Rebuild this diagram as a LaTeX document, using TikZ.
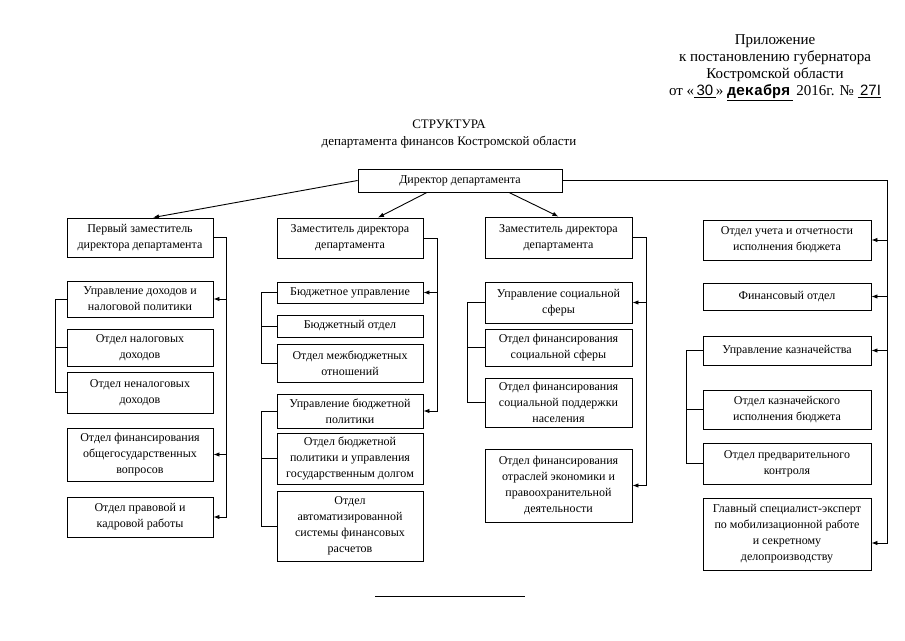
\documentclass[tikz,border=0pt]{standalone}
\usepackage{fontspec}
\setmainfont{Liberation Serif}
\newfontfamily\handsans{Liberation Sans}
\newfontfamily\handmono{Liberation Mono}
\usetikzlibrary{arrows.meta}

\tikzset{
  unit/.style={draw, line width=0.9pt, align=center, inner sep=0pt,
    font=\fontsize{12}{16}\selectfont},
  size/.style 2 args={minimum width=#1pt, minimum height=#2pt},
  link/.style={line width=0.9pt},
  >={Latex[length=6pt,width=4.5pt]}
}

\begin{document}
\begin{tikzpicture}[x=1pt,y=-1pt]
      \useasboundingbox[fill=white] (0,0) rectangle (905,640);
      % heading
      \node[align=center, font=\fontsize{15}{17}\selectfont] (app) at (775,67.5)
        {Приложение\\ к постановлению губернатора\\ Костромской области\\
         от «\underline{\handsans\,30\,}» \underline{\handmono\bfseries декабря\,} 2016г. № \underline{\handsans\,27I}};
      \node[align=center, font=\fontsize{13}{17}\selectfont] (title) at (449,134)
        {СТРУКТУРА\\ департамента финансов Костромской области};
      \node[unit, size={204}{23}] (dir) at (460,180.5) {Директор департамента};

      % first deputy
      \node[unit, size={146}{39}] (a1) at (140,237.5) {Первый заместитель\\ директора департамента};
      \node[unit, size={146}{36}] (a2) at (140,299) {Управление доходов и\\ налоговой политики};
      \node[unit, size={146}{37}] (a3) at (140,347.5) {Отдел налоговых\\ доходов};
      \node[unit, size={146}{41}] (a4) at (140,392.5) {Отдел неналоговых\\ доходов};
      \node[unit, size={146}{53}] (a5) at (140,454.5) {Отдел финансирования\\ общегосударственных\\ вопросов};
      \node[unit, size={146}{40}] (a6) at (140,517) {Отдел правовой и\\ кадровой работы};

      % deputy, budget
      \node[unit, size={146}{40}] (b1) at (350,238) {Заместитель директора\\ департамента};
      \node[unit, size={146}{21}] (b2) at (350,292.5) {Бюджетное управление};
      \node[unit, size={146}{22}] (b3) at (350,326) {Бюджетный отдел};
      \node[unit, size={146}{38}] (b4) at (350,363) {Отдел межбюджетных\\ отношений};
      \node[unit, size={146}{34}] (b5) at (350,411) {Управление бюджетной\\ политики};
      \node[unit, size={146}{51}] (b6) at (350,458.5) {Отдел бюджетной\\ политики и управления\\ государственным долгом};
      \node[unit, size={146}{70}] (b7) at (350,526) {Отдел\\ автоматизированной\\ системы финансовых\\ расчетов};

      % deputy, social
      \node[unit, size={147}{41}] (c1) at (558.5,237.5) {Заместитель директора\\ департамента};
      \node[unit, size={147}{41}] (c2) at (558.5,302.5) {Управление социальной\\ сферы};
      \node[unit, size={147}{37}] (c3) at (558.5,347.5) {Отдел финансирования\\ социальной сферы};
      \node[unit, size={147}{49}] (c4) at (558.5,402.5) {Отдел финансирования\\ социальной поддержки\\ населения};
      \node[unit, size={147}{73}] (c5) at (558.5,485.5) {Отдел финансирования\\ отраслей экономики и\\ правоохранительной\\ деятельности};

      % under the director
      \node[unit, size={168}{40}] (d1) at (787,240) {Отдел учета и отчетности\\ исполнения бюджета};
      \node[unit, size={168}{27}] (d2) at (787,296.5) {Финансовый отдел};
      \node[unit, size={168}{29}] (d3) at (787,350.5) {Управление казначейства};
      \node[unit, size={168}{39}] (d4) at (787,409.5) {Отдел казначейского\\ исполнения бюджета};
      \node[unit, size={168}{41}] (d5) at (787,463.5) {Отдел предварительного\\ контроля};
      \node[unit, size={168}{72}] (d6) at (787,534) {Главный специалист-эксперт\\ по мобилизационной работе\\ и секретному\\ делопроизводству};

      % director -> deputies
      \draw[link,->] (dir.west) -- ([xshift=13pt]a1.north);
      \draw[link,->] ([xshift=-33pt]dir.south) -- ([xshift=28pt]b1.north);
      \draw[link,->] ([xshift=49pt]dir.south) -- (c1.north);
      \draw[link,->] (dir.east) -- ++(325,0) coordinate (s4) |- ([yshift=-9pt]d6.east);
      \foreach \u in {d1,d2,d3}{\draw[link,->] (s4 |- \u.east) -- (\u.east);}

      % right spines
      \draw[link,->] (a1.east) -- ++(13,0) coordinate (s1) |- (a6.east);
      \foreach \u in {a2,a5}{\draw[link,->] (s1 |- \u.east) -- (\u.east);}
      \draw[link,->] (b1.east) -- ++(14,0) coordinate (s2) |- (b5.east);
      \draw[link,->] (s2 |- b2.east) -- (b2.east);
      \draw[link,->] (c1.east) -- ++(14,0) coordinate (s3) |- (c5.east);
      \draw[link,->] (s3 |- c2.east) -- (c2.east);

      % left brackets
      \draw[link] (a2.west) -- ++(-11,0) coordinate (l1) |- (a4.west);
      \draw[link] (l1 |- a3.west) -- (a3.west);
      \draw[link] (b2.west) -- ++(-15,0) coordinate (l2) |- (b4.west);
      \draw[link] (l2 |- b3.west) -- (b3.west);
      \draw[link] (b5.west) -- ++(-15,0) coordinate (l3) |- (b7.west);
      \draw[link] (l3 |- b6.west) -- (b6.west);
      \draw[link] (c2.west) -- ++(-17,0) coordinate (l4) |- (c4.west);
      \draw[link] (l4 |- c3.west) -- (c3.west);
      \draw[link] (d3.west) -- ++(-16,0) coordinate (l5) |- (d5.west);
      \draw[link] (l5 |- d4.west) -- (d4.west);

      \draw[line width=0.8pt] (375,596) -- (525,596);
    \end{tikzpicture}
\end{document}
